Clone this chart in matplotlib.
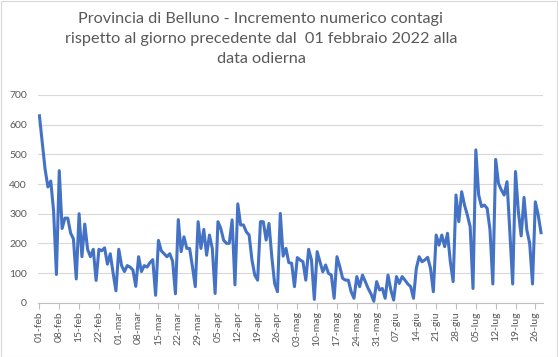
import matplotlib
matplotlib.use("Agg")
import matplotlib.pyplot as plt
from matplotlib.patches import Rectangle

title = ("Provincia di Belluno - Incremento numerico contagi\n"
         "rispetto al giorno precedente dal  01 febbraio 2022 alla\n"
         "data odierna")

values = [
    630, 540, 450, 390, 410, 310, 95,
    445, 250, 285, 285, 235, 215, 80,
    300, 155, 265, 180, 155, 180, 75,
    180, 175, 185, 130, 165, 100, 40,
    180, 125, 105, 125, 120, 110, 55,
    155, 105, 125, 120, 135, 145, 25,
    210, 175, 165, 155, 165, 140, 30,
    280, 172, 222, 183, 183, 121, 54,
    273, 183, 247, 160, 228, 183, 31,
    273, 250, 211, 200, 200, 279, 60,
    333, 262, 262, 239, 228, 144, 93,
    76, 273, 273, 211, 267, 155, 65,
    37, 301, 157, 183, 135, 133, 54,
    152, 144, 138, 76, 180, 144, 11,
    172, 138, 104, 127, 99, 93, 15,
    155, 121, 82, 76, 76, 37, 15,
    88, 54, 93, 71, 48, 30, 5,
    71, 43, 48, 15, 93, 43, 9,
    88, 65, 88, 76, 63, 54, 15,
    116, 155, 138, 144, 153, 116, 37,
    228, 194, 228, 189, 234, 138, 71,
    363, 273, 374, 329, 296, 256, 48,
    515, 363, 324, 329, 318, 245, 63,
    483, 402, 380, 363, 408, 239, 63,
    442, 307, 225, 355, 245, 200, 63,
    340, 296, 236,
]

tick_labels = ["01-feb", "08-feb", "15-feb", "22-feb", "01-mar", "08-mar",
               "15-mar", "22-mar", "29-mar", "05-apr", "12-apr", "19-apr",
               "26-apr", "03-mag", "10-mag", "17-mag", "24-mag", "31-mag",
               "07-giu", "14-giu", "21-giu", "28-giu", "05-lug", "12-lug",
               "19-lug", "26-lug"]
tick_step = 7

y_ticks = [0, 100, 200, 300, 400, 500, 600, 700]

W, H = 558, 357
fig = plt.figure(figsize=(W / 100, H / 100), dpi=100)
plt.rcParams['font.family'] = ['Lato', 'DejaVu Sans']
grey = "#595959"

fig.patches.append(Rectangle((0.5 / W, 0.5 / H), (W - 1.5) / W, (H - 1.5) / H,
                             transform=fig.transFigure, fill=False,
                             edgecolor="#d9d9d9", linewidth=0.8))

ax = fig.add_axes([38 / W, 1 - 302.7 / H, (543 - 38) / W, (302.7 - 95) / H])
x = list(range(len(values)))
ax.plot(x, values, color="#4472C4", linewidth=2.2, solid_joinstyle="round",
        zorder=3)

ax.set_ylim(0, 700)
ax.set_yticks(y_ticks)
ax.set_xlim(-0.5, len(values) - 0.3)
ax.set_xticks([i * tick_step for i in range(len(tick_labels))])
ax.set_xticklabels(tick_labels, rotation=90)

ax.grid(axis="y", color="#d9d9d9", linewidth=0.8)
ax.set_axisbelow(True)
for s in ["top", "right", "left"]:
    ax.spines[s].set_visible(False)
ax.spines["bottom"].set_color("#bfbfbf")
ax.spines["bottom"].set_linewidth(0.8)
ax.tick_params(axis="y", length=0, labelsize=7.5, labelcolor=grey, pad=8)
ax.tick_params(axis="x", length=4, color="#bfbfbf", labelsize=7.5,
               labelcolor=grey, pad=2)

fig.text(261 / W, 1 - 12 / H, title, ha="center", va="top", fontsize=11.7,
         color=grey, linespacing=1.55)

fig.savefig("out.png", dpi=100)
